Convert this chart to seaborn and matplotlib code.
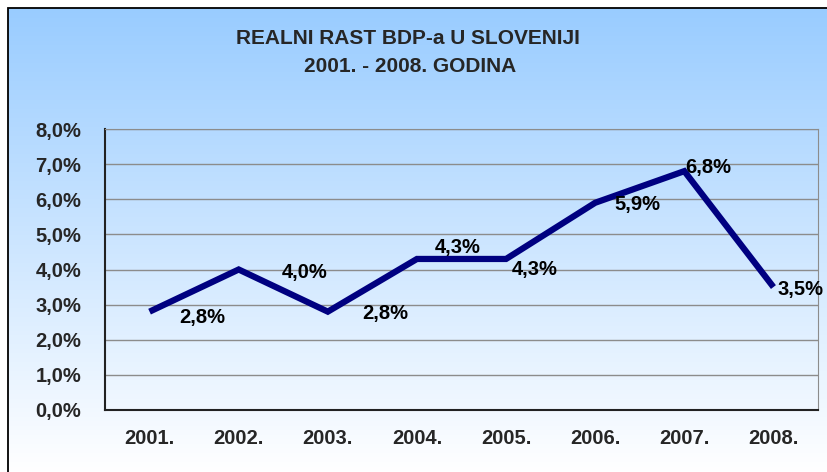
import numpy as np
import pandas as pd
import seaborn as sns
import matplotlib.pyplot as plt
from matplotlib.patches import Rectangle
from matplotlib.ticker import FixedLocator, FuncFormatter

# podaci
godine = ['2001.', '2002.', '2003.', '2004.', '2005.', '2006.', '2007.', '2008.']
rast = [2.8, 4.0, 2.8, 4.3, 4.3, 5.9, 6.8, 3.5]
oznake = ['2,8%', '4,0%', '2,8%', '4,3%', '4,3%', '5,9%', '6,8%', '3,5%']
# pomak oznaka (px) od tocke
pomak = [(53, -6), (66, -3), (57, -2), (41, 11), (29, -11), (42, -2), (24, 4), (27, -2)]

sns.set_style('white')
plt.rcParams['font.family'] = ['Liberation Sans', 'DejaVu Sans']
plt.rcParams['font.weight'] = 'bold'

fig = plt.figure(figsize=(8.27, 4.72), dpi=100)
W, H = 827, 472

# pozadina s gradijentom
bg = fig.add_axes([0, 0, 1, 1], zorder=-2)
grad = np.linspace(0, 1, 256).reshape(-1, 1)
top = np.array([153, 204, 255]) / 255
bot = np.array([255, 255, 255]) / 255
img = top[None, None, :] * (1 - grad[:, :, None]) + bot[None, None, :] * grad[:, :, None]
x0, y0 = 8 / W, 1 - 8 / H
bg.imshow(img, extent=[x0, 1.05, 0, y0], aspect='auto', origin='upper')
bg.set_xlim(0, 1)
bg.set_ylim(0, 1)
bg.axis('off')
bg.add_patch(Rectangle((x0, -0.05), 1.1, y0 + 0.05, fill=False, edgecolor='black', linewidth=1.3))

ax = fig.add_axes([105 / W, 1 - 410 / H, (818 - 105) / W, (410 - 129) / H])
ax.set_facecolor('none')

df = pd.DataFrame({'godina': godine, 'rast': rast})
sns.lineplot(data=df, x='godina', y='rast', color='#000080', linewidth=4.5, ax=ax,
             solid_joinstyle='miter', solid_capstyle='butt')

for i, (v, t) in enumerate(zip(rast, oznake)):
    ax.annotate(t, (i, v), xytext=pomak[i], textcoords='offset pixels',
                ha='center', va='center', fontsize=14.5, fontweight='bold', color='black')

ax.set_xlim(-0.5, 7.5)
ax.set_ylim(0, 8)
ax.yaxis.set_major_locator(FixedLocator(range(0, 9)))
ax.yaxis.set_major_formatter(FuncFormatter(lambda v, p: '%d,0%%' % v))
ax.grid(axis='y', color='#8c8c8c', linewidth=1)
ax.set_xticks(range(len(godine)))
ax.set_xticklabels(godine)
ax.set_xticks(np.arange(-0.5, 8, 1), minor=True)
ax.tick_params(axis='x', which='major', length=0, pad=14, labelsize=14.5)
ax.tick_params(axis='x', which='minor', length=5, width=1, color='#222222', direction='out')
ax.tick_params(axis='y', length=5, width=1, color='#222222', direction='out', pad=12, labelsize=14.5)
ax.set_xlabel('')
ax.set_ylabel('')

for s in ['left', 'bottom']:
    ax.spines[s].set_color('#222222')
    ax.spines[s].set_linewidth(1.5)
ax.spines['right'].set_color('#8c8c8c')
ax.spines['top'].set_color('#8c8c8c')

fig.text(0.493, 1 - 38 / H, 'REALNI RAST BDP-a U SLOVENIJI', ha='center', va='center',
         fontsize=15, fontweight='bold')
fig.text(0.496, 1 - 66 / H, '2001. - 2008. GODINA', ha='center', va='center',
         fontsize=15, fontweight='bold')

fig.savefig('out.png', dpi=100)
